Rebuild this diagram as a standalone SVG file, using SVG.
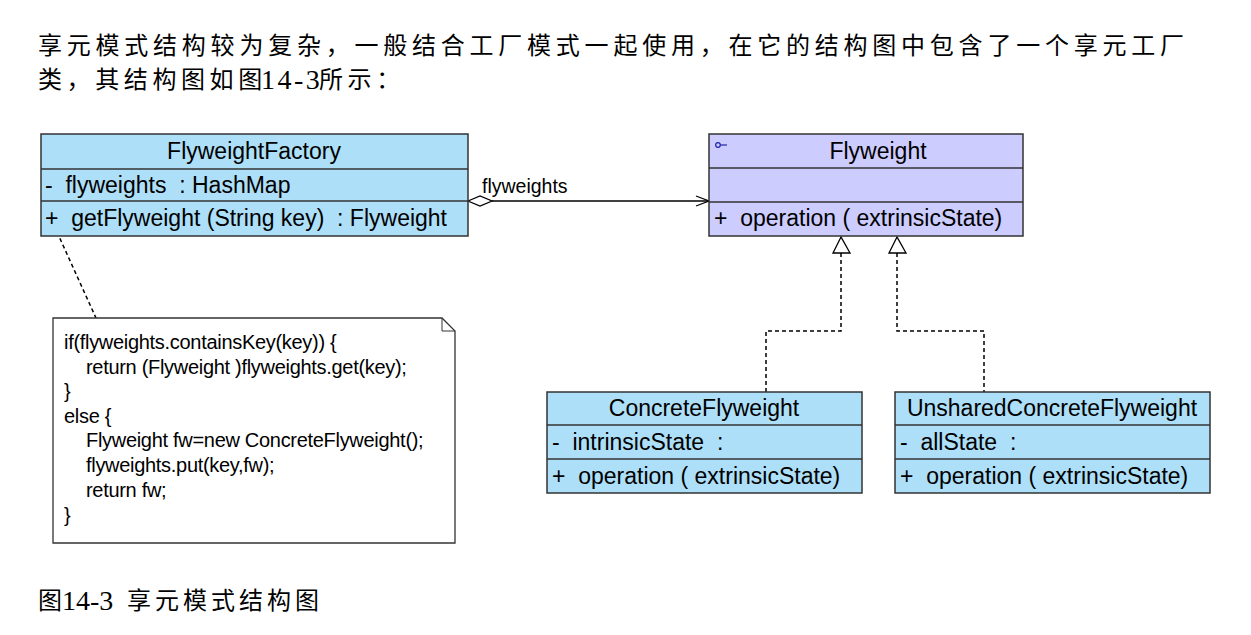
<svg xmlns="http://www.w3.org/2000/svg" width="1251" height="635" viewBox="0 0 1251 635">
<style>
.cn{font-family:"Liberation Serif","Noto Sans CJK SC",serif;font-size:24px;fill:#000}
.num{font-family:"Liberation Serif",serif;font-size:28px;fill:#000}
.u{font-family:"Liberation Sans",Arial,sans-serif;font-size:23px;fill:#000;white-space:pre}
.n{font-family:"Liberation Sans",Arial,sans-serif;font-size:20px;fill:#000;letter-spacing:-0.3px}
.cls{fill:#ADDFF8;stroke:#333;stroke-width:1.5}
.ifc{fill:#CCCCFF;stroke:#333;stroke-width:1.5}
.div{stroke:#333;stroke-width:1.5}
.dash{fill:none;stroke:#000;stroke-width:1.5;stroke-dasharray:4 3}
</style>
<rect width="1251" height="635" fill="#fff"/>
<text class="cn" x="38" y="54" textLength="1146" lengthAdjust="spacing">享元模式结构较为复杂，一般结合工厂模式一起使用，在它的结构图中包含了一个享元工厂</text>
<text class="cn" x="38" y="88" letter-spacing="4.6">类，其结构图如图</text>
<text class="num" x="261" y="89" letter-spacing="2.5">14-3</text>
<text class="cn" x="319" y="88" letter-spacing="4.6">所示：</text>
<text class="cn" x="38" y="609" font-size="23">图</text>
<text class="num" x="62" y="610">14-3</text>
<text class="cn" x="127" y="609" font-size="23" letter-spacing="4">享元模式结构图</text>

<g id="connectors">
  <line x1="492" y1="201" x2="709" y2="201" stroke="#000" stroke-width="1.5"/>
  <polygon points="468,201 480,196 492,201 480,206" fill="#fff" stroke="#000" stroke-width="1.3"/>
  <polyline points="696,196 709,201 696,206" fill="none" stroke="#000" stroke-width="1.3"/>
  <text x="482" y="193" font-family="Liberation Sans, Arial, sans-serif" font-size="19.5">flyweights</text>
  <polyline class="dash" points="841,253 841,331 766,331 766,392"/>
  <polyline class="dash" points="897,253 897,331 984,331 984,392"/>
  <polygon points="841,237 833,253 850,253" fill="#fff" stroke="#000" stroke-width="1.3"/>
  <polygon points="897,237 889,253 906,253" fill="#fff" stroke="#000" stroke-width="1.3"/>
  <line class="dash" x1="57" y1="232" x2="96" y2="318" stroke-dasharray="3 3"/>
</g>

<g id="FlyweightFactory">
  <rect class="cls" x="41" y="134" width="427" height="102"/>
  <line class="div" x1="41" y1="169" x2="468" y2="169"/>
  <line class="div" x1="41" y1="201" x2="468" y2="201"/>
  <text class="u" x="254" y="159" text-anchor="middle">FlyweightFactory</text>
  <text class="u" x="45" y="193">-  flyweights  : HashMap</text>
  <text class="u" x="45" y="226">+  getFlyweight (String key)  : Flyweight</text>
</g>

<g id="Flyweight">
  <rect class="ifc" x="709" y="134" width="314" height="102"/>
  <line class="div" x1="709" y1="168" x2="1023" y2="168"/>
  <line class="div" x1="709" y1="202" x2="1023" y2="202"/>
  <circle cx="718" cy="145" r="2.3" fill="none" stroke="#2222aa" stroke-width="1.2"/>
  <line x1="720.5" y1="145" x2="727" y2="145" stroke="#2222aa" stroke-width="1.2"/>
  <text class="u" x="878" y="159" text-anchor="middle">Flyweight</text>
  <text class="u" x="714" y="226">+  operation ( extrinsicState)</text>
</g>

<g id="ConcreteFlyweight">
  <rect class="cls" x="547" y="392" width="315" height="101"/>
  <line class="div" x1="547" y1="425" x2="862" y2="425"/>
  <line class="div" x1="547" y1="459" x2="862" y2="459"/>
  <text class="u" x="704" y="416" text-anchor="middle">ConcreteFlyweight</text>
  <text class="u" x="552" y="450">-  intrinsicState  :</text>
  <text class="u" x="552" y="484">+  operation ( extrinsicState)</text>
</g>

<g id="UnsharedConcreteFlyweight">
  <rect class="cls" x="895" y="392" width="315" height="101"/>
  <line class="div" x1="895" y1="425" x2="1210" y2="425"/>
  <line class="div" x1="895" y1="459" x2="1210" y2="459"/>
  <text class="u" x="1052" y="416" text-anchor="middle">UnsharedConcreteFlyweight</text>
  <text class="u" x="900" y="450">-  allState  :</text>
  <text class="u" x="900" y="484">+  operation ( extrinsicState)</text>
</g>

<g id="note">
  <path d="M53,318 H442 L455,331 V543 H53 Z" fill="#fff" stroke="#333" stroke-width="1.3"/>
  <path d="M442,318 V331 H455" fill="none" stroke="#333" stroke-width="1"/>
  <text class="n" x="64" y="349">if(flyweights.containsKey(key)) {</text>
  <text class="n" x="86" y="374">return (Flyweight )flyweights.get(key);</text>
  <text class="n" x="64" y="398">}</text>
  <text class="n" x="64" y="423">else {</text>
  <text class="n" x="86" y="447">Flyweight fw=new ConcreteFlyweight();</text>
  <text class="n" x="86" y="472">flyweights.put(key,fw);</text>
  <text class="n" x="86" y="497">return fw;</text>
  <text class="n" x="64" y="522">}</text>
</g>
</svg>
